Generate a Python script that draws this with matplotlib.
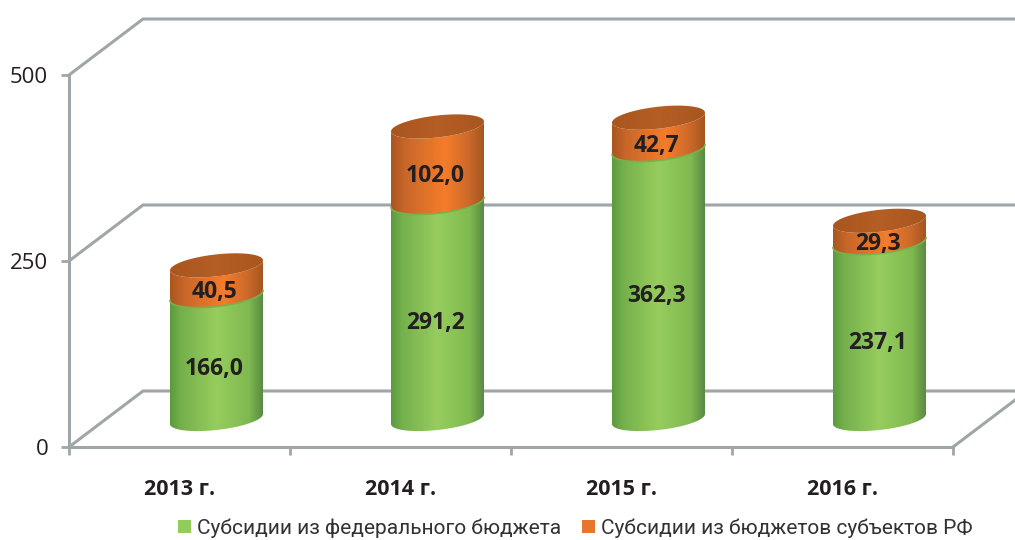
import numpy as np
import matplotlib
matplotlib.use("Agg")
import matplotlib.pyplot as plt
from matplotlib.colors import LinearSegmentedColormap
from matplotlib.patches import Patch, PathPatch
from matplotlib.path import Path

years = ["2013 г.", "2014 г.", "2015 г.", "2016 г."]
federal = [166.0, 291.2, 362.3, 237.1]
regional = [40.5, 102.0, 42.7, 29.3]
federal_name = "Субсидии из федерального бюджета"
regional_name = "Субсидии из бюджетов субъектов РФ"
y_ticks = [0, 250, 500]

W, H = 1015, 540
AXL, AXR, AXT, AXB = 69, 953, 75, 447
fig = plt.figure(figsize=(W / 100, H / 100), dpi=100, facecolor="white")
ax = fig.add_axes([AXL / W, 1 - AXB / H, (AXR - AXL) / W, (AXB - AXT) / H])
ax.set_xlim(-0.5, 3.5)
ax.set_ylim(0, 500)
ax.set_facecolor("none")

TXT = "#231f20"
GRID = "#a0a6a8"
MAIN = ["Open Sans", "DejaVu Sans"]
LEG = ["Roboto", "DejaVu Sans"]
px_x = 4 / (AXR - AXL)
px_y = 500 / (AXB - AXT)

# chart frame
depth_x, depth_y = 74 * px_x, 56 * px_y
x_end = -0.5 + (W - AXL) * px_x
for v in y_ticks:
    ax.plot([-0.5, -0.5 + depth_x, x_end], [v, v + depth_y, v + depth_y],
            color=GRID, lw=2.2, clip_on=False, zorder=1, solid_joinstyle="miter")
ax.plot([3.5, x_end], [0, (W - AXR) * px_x / depth_x * depth_y],
        color=GRID, lw=2.2, clip_on=False, zorder=1)

for s in ("top", "right"):
    ax.spines[s].set_visible(False)
for s in ("left", "bottom"):
    ax.spines[s].set_color(GRID)
    ax.spines[s].set_linewidth(2.2)
    ax.spines[s].set_zorder(1)

ax.set_yticks(y_ticks)
ax.set_xticks([-0.5, 0.5, 1.5, 2.5, 3.5])
ax.set_xticklabels([])
ax.set_xticks(range(len(years)), labels=years, minor=True)
ax.tick_params(axis="y", length=6, width=2, color=GRID, labelsize=16,
               labelcolor=TXT, pad=9)
ax.tick_params(axis="x", which="major", length=6, width=2, color=GRID)
ax.tick_params(axis="x", which="minor", length=0, labelsize=15.5, labelcolor=TXT, pad=23)
for t in ax.get_yticklabels():
    t.set_family(MAIN)
for t in ax.get_xticklabels(minor=True):
    t.set_family(MAIN)
    t.set_fontweight("bold")

# cylinders
green = LinearSegmentedColormap.from_list("g", [(0, "#5c9a3e"), (0.12, "#74b04c"), (0.5, "#97cd5e"),
                                                (0.85, "#7fb94f"), (1, "#5a8a44")])
orange = LinearSegmentedColormap.from_list("o", [(0, "#a9561f"), (0.15, "#c8672a"), (0.58, "#f57c2a"),
                                                 (0.85, "#c9682a"), (1, "#a4561f")])
lid = LinearSegmentedColormap.from_list("l", [(0, "#a9561f"), (0.5, "#b55e25"), (1, "#a9571f")])
half_w = 46.5 * px_x
ell_b, ell_s = 11 * px_y, 5 * px_y
base = 28 * px_y
label_drop = 12 * px_y
shift = 37 * px_x
grad = np.linspace(0, 1, 256).reshape(1, -1)


def ell(cx, cy, t):
    return np.column_stack([cx + half_w * np.cos(t), cy + ell_b * np.sin(t) + ell_s * np.cos(t)])


def body(cx, y0, y1, cmap, z):
    front0 = ell(cx, y0, np.linspace(np.pi, 2 * np.pi, 60))
    front1 = ell(cx, y1, np.linspace(2 * np.pi, np.pi, 60))
    pts = np.vstack([front0, front1, front0[:1]])
    paint(pts, cx, y0, y1, cmap, z)


def paint(pts, cx, y0, y1, cmap, z):
    patch = PathPatch(Path(pts), fc="none", ec="none", transform=ax.transData)
    ax.add_patch(patch)
    im = ax.imshow(grad, cmap=cmap, aspect="auto", vmin=0, vmax=1, zorder=z,
                   extent=[cx - half_w, cx + half_w, y0 - 30, y1 + 30], clip_on=True)
    im.set_clip_path(patch)


for i, (a, b) in enumerate(zip(federal, regional)):
    cx = i + shift
    seam = base + a
    top = seam + b
    body(cx, base, seam, green, 2)
    body(cx, seam, top, orange, 3)
    ring = ell(cx, seam, np.linspace(np.pi, 2 * np.pi, 60))
    ax.plot(ring[:, 0], ring[:, 1], color="#79b04a", lw=1.2, zorder=3.5, clip_on=False)
    paint(ell(cx, top, np.linspace(0, 2 * np.pi, 120)), cx, top - 30, top + 30, lid, 4)
    ax.text(cx - 2 * px_x, base + a / 2 - label_drop, f"{a:.1f}".replace(".", ","),
            ha="center", va="center", fontsize=16.5, fontweight="bold",
            family=MAIN, color=TXT, zorder=6)
    ax.text(cx - 2 * px_x, seam + b / 2 - label_drop, f"{b:.1f}".replace(".", ","),
            ha="center", va="center", fontsize=16.5, fontweight="bold",
            family=MAIN, color=TXT, zorder=6)

ax.set_xlim(-0.5, 3.5)
ax.set_ylim(0, 500)

handles = [Patch(fc="#92cd5c", ec="none", label=federal_name),
           Patch(fc="#e6752e", ec="none", label=regional_name)]
fig.legend(handles=handles, ncol=2, loc="center left", bbox_to_anchor=(178 / W, 1 - 528 / H),
           frameon=False, prop={"family": LEG, "size": 15}, labelcolor="#333132",
           handlelength=0.62, handleheight=0.62, handletextpad=0.3, columnspacing=1.0,
           borderpad=0, borderaxespad=0)

fig.savefig("out.png", dpi=100)
